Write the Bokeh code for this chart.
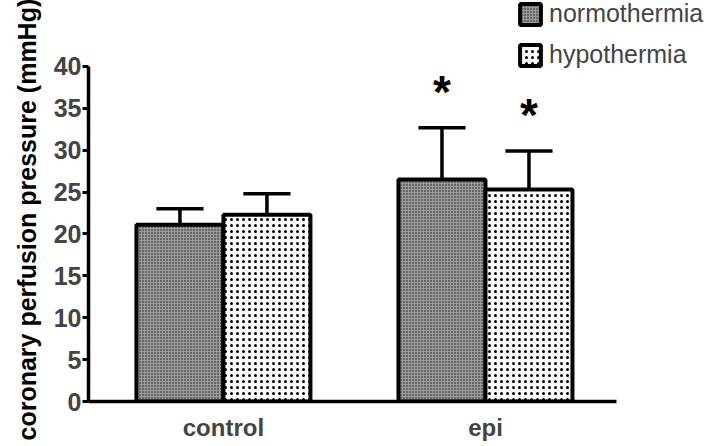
import numpy as np
from bokeh.plotting import figure
from bokeh.models import (Range1d, FixedTicker, Legend, LegendItem, ColumnDataSource, Title)
from bokeh.core.properties import value
from bokeh.embed import file_html
from bokeh.resources import INLINE

# ---- data ----
groups = ["control", "epi"]
series = ["normothermia", "hypothermia"]
normo_mean = [21.1, 26.5]
normo_err = [1.9, 6.2]
hypo_mean = [22.3, 25.3]
hypo_err = [2.5, 4.6]
significant_normo = [False, True]
significant_hypo = [False, True]
y_ticks = [0, 5, 10, 15, 20, 25, 30, 35, 40]

FONT = "Liberation Sans"

p = figure(width=709, height=446, output_backend="svg", toolbar_location=None,
           x_range=Range1d(0.485, 2.855), y_range=Range1d(0, 47.88),
           min_border_left=88, min_border_right=0, min_border_top=0,
           min_border_bottom=45)
p.outline_line_color = None
p.xgrid.visible = False
p.ygrid.visible = False

gx = np.arange(1, len(groups) + 1, dtype=float)
off = 0.166
bw = 0.332


def bars(xpos, mean, err, sig, fill, hcolor, scale):
    mean = np.array(mean); err = np.array(err)
    src = ColumnDataSource(dict(x=xpos, top=mean))
    r = p.vbar(x="x", top="top", width=bw, source=src, fill_color=fill,
               line_color="black", line_width=4,
               hatch_pattern="dot", hatch_color=hcolor, hatch_scale=scale,
               hatch_weight=3)
    up = mean + err
    p.segment(x0=xpos, y0=mean, x1=xpos, y1=up, line_color="black", line_width=3.5)
    p.segment(x0=xpos - 0.09, y0=up, x1=xpos + 0.09, y1=up, line_color="black", line_width=3.5)
    sx = [x for x, s in zip(xpos, sig) if s]
    sy = [u + 4.3 for u, s in zip(up, sig) if s]
    p.text(x=sx, y=sy, text=["*"] * len(sx), text_align="center",
           text_baseline="alphabetic", text_font=value(FONT),
           text_font_style="bold", text_font_size="46px", text_color="black")
    return r


r1 = bars(gx - off, normo_mean, normo_err, significant_normo, "#9a9a9a", "#1a1a1a", 3)
r2 = bars(gx + off, hypo_mean, hypo_err, significant_hypo, "#ffffff", "#000000", 6)

# axes
yax = p.yaxis[0]
yax.bounds = (0, 40)
yax.ticker = FixedTicker(ticks=y_ticks)
yax.minor_tick_line_color = None
yax.major_tick_in = 0
yax.major_tick_out = 6
yax.major_tick_line_width = 3
yax.axis_line_width = 3.5
yax.major_label_text_font = FONT
yax.major_label_text_font_style = "bold"
yax.major_label_text_font_size = "25px"
yax.major_label_standoff = 1

p.add_layout(Title(text="coronary perfusion pressure (mmHg)", align="left",
                   offset=-39, standoff=20,
                   text_font=FONT, text_font_style="bold",
                   text_font_size="25px", text_color="black"), "left")

xax = p.xaxis[0]
xax.bounds = (0.485, 2.5)
xax.ticker = FixedTicker(ticks=list(gx))
xax.major_label_overrides = {float(x): g for x, g in zip(gx, groups)}
xax.major_label_overrides.update({int(x): g for x, g in zip(gx, groups)})
xax.major_tick_line_color = None
xax.major_tick_in = 0
xax.major_tick_out = 0
xax.minor_tick_line_color = None
xax.axis_line_width = 3.5
xax.major_label_text_font = FONT
xax.major_label_text_font_style = "bold"
xax.major_label_text_font_size = "24px"
xax.major_label_standoff = 12

legend = Legend(items=[LegendItem(label=series[0], renderers=[r1]),
                       LegendItem(label=series[1], renderers=[r2])],
                location=(429, 332), glyph_width=26, glyph_height=26,
                label_height=26, spacing=12, padding=0, margin=0,
                label_standoff=6, border_line_color=None,
                background_fill_alpha=0,
                label_text_font=FONT, label_text_font_size="25px")
p.add_layout(legend)

open("out.html", "w").write(file_html(p, INLINE))
